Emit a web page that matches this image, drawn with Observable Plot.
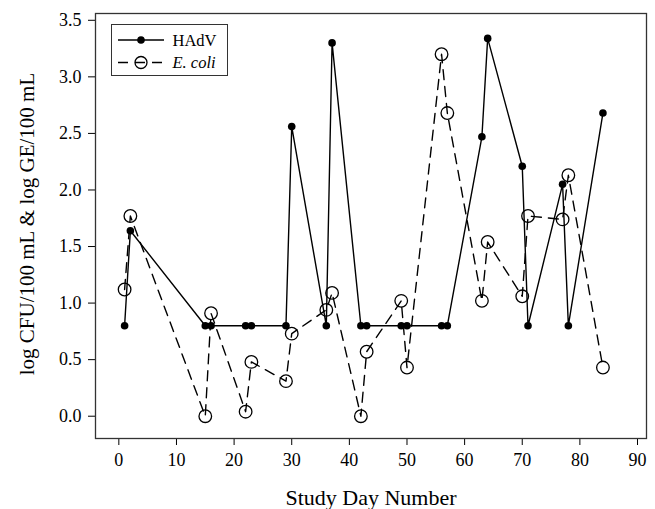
<!DOCTYPE html>
<html>
<head>
<meta charset="utf-8">
<script src="https://cdn.jsdelivr.net/npm/d3@7"></script>
<script src="https://cdn.jsdelivr.net/npm/@observablehq/plot@0.6"></script>
<style>
  html, body { margin: 0; padding: 0; background: white; }
  #chart { width: 655px; height: 509px; }
</style>
</head>
<body>
<div id="chart"></div>
<script>
// Study days (shared by both series)
const days = [1, 2, 15, 16, 22, 23, 29, 30, 36, 37, 42, 43, 49, 50, 56, 57, 63, 64, 70, 71, 77, 78, 84];
// HAdV, log GE/100 mL
const hadv = [0.80, 1.64, 0.80, 0.80, 0.80, 0.80, 0.80, 2.56, 0.80, 3.30, 0.80, 0.80, 0.80, 0.80, 0.80, 0.80, 2.47, 3.34, 2.21, 0.80, 2.05, 0.80, 2.68];
// E. coli, log CFU/100 mL
const ecoli = [1.12, 1.77, 0.00, 0.91, 0.04, 0.48, 0.31, 0.73, 0.94, 1.09, 0.00, 0.57, 1.02, 0.43, 3.20, 2.68, 1.02, 1.54, 1.06, 1.77, 1.74, 2.13, 0.43];
const xTicks = [0, 10, 20, 30, 40, 50, 60, 70, 80, 90];
const yTicks = [0, 0.5, 1.0, 1.5, 2.0, 2.5, 3.0, 3.5];
const xLabel = "Study Day Number";
const yLabel = "log CFU/100 mL & log GE/100 mL";
const seriesNames = ["HAdV", "E. coli"];

const data = days.map((d, i) => ({day: d, hadv: hadv[i], ecoli: ecoli[i]}));
const font = "'Liberation Serif', 'Times New Roman', serif";

const chart = Plot.plot({
  width: 655,
  height: 509,
  marginLeft: 95,
  marginTop: 13,
  marginRight: 9,
  marginBottom: 71,
  style: {fontFamily: font, background: "white", color: "black"},
  x: {domain: [-4.05, 91.56]},
  y: {domain: [-0.197, 3.56]},
  marks: [
    Plot.axisX({ticks: xTicks, tickSize: 7, tickPadding: 8, fontSize: 18, label: null, tickFormat: d => String(d)}),
    Plot.axisY({ticks: yTicks, tickSize: 7, tickPadding: 7, fontSize: 18, label: null, tickFormat: d => d.toFixed(1)}),
    Plot.line(data, {x: "day", y: "ecoli", stroke: "black", strokeWidth: 1.4, strokeDasharray: "10,7"}),
    Plot.dot(data, {x: "day", y: "ecoli", r: 6.3, stroke: "black", strokeWidth: 1.3, fill: "none"}),
    Plot.line(data, {x: "day", y: "hadv", stroke: "black", strokeWidth: 1.4}),
    Plot.dot(data, {x: "day", y: "hadv", r: 3.8, fill: "black", stroke: "none"}),
    Plot.frame({stroke: "#333", strokeWidth: 1.3}),
    Plot.text([xLabel], {text: d => d, frameAnchor: "bottom", dy: 66, lineAnchor: "bottom", fontSize: 22, fill: "black"}),
    Plot.text([yLabel], {text: d => d, frameAnchor: "left", dx: -62, dy: -2, rotate: -90, textAnchor: "middle", lineAnchor: "bottom", fontSize: 21, fill: "black"})
  ]
});

document.getElementById("chart").appendChild(chart);

// Legend (inside top-left of the plot area)
const svg = d3.select(chart);
const lg = svg.append("g").attr("font-family", font).attr("font-size", 16.5).attr("text-anchor", "start");
lg.append("rect").attr("x", 111.5).attr("y", 24.5).attr("width", 116).attr("height", 51)
  .attr("fill", "white").attr("stroke", "#333").attr("stroke-width", 1);
// HAdV row
lg.append("line").attr("x1", 118).attr("x2", 164).attr("y1", 40).attr("y2", 40)
  .attr("stroke", "black").attr("stroke-width", 1.4);
lg.append("circle").attr("cx", 141).attr("cy", 40).attr("r", 3.8).attr("fill", "black");
lg.append("text").attr("x", 172.5).attr("y", 40).attr("dy", "0.35em").attr("fill", "black").text(seriesNames[0]);
// E. coli row
lg.append("line").attr("x1", 118).attr("x2", 164).attr("y1", 62.5).attr("y2", 62.5)
  .attr("stroke", "black").attr("stroke-width", 1.4).attr("stroke-dasharray", "10,7");
lg.append("circle").attr("cx", 141).attr("cy", 62.5).attr("r", 6).attr("fill", "none")
  .attr("stroke", "black").attr("stroke-width", 1.3);
lg.append("text").attr("x", 172.5).attr("y", 62.5).attr("dy", "0.35em").attr("fill", "black")
  .attr("font-style", "italic").text(seriesNames[1]);
</script>
</body>
</html>
